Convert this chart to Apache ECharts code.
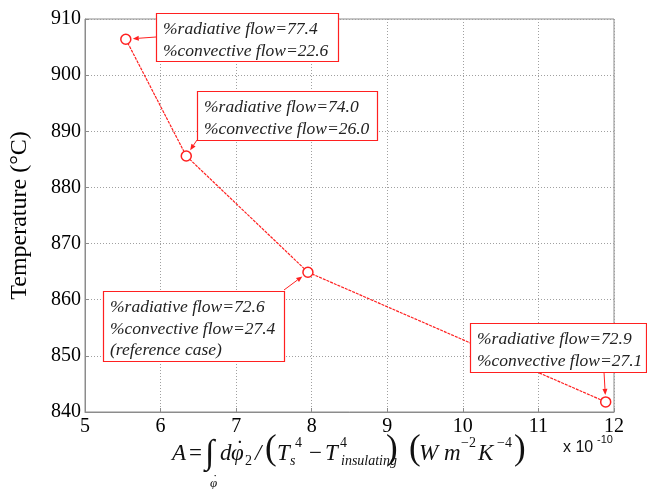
<!DOCTYPE html>
<html><head><meta charset="utf-8">
<script src="https://cdn.jsdelivr.net/npm/echarts@6/dist/echarts.min.js"></script>
<style>html,body{margin:0;padding:0;background:#fff}#c{width:647px;height:489px}</style>
</head><body><div id="c"></div>
<script>
const xValues = [5.54, 6.34, 7.95, 11.89];
const temperatures = [906.4, 885.6, 864.9, 841.8];
const radiative = ['77.4', '74.0', '72.6', '72.9'];
const convective = ['22.6', '26.0', '27.4', '27.1'];
const extraNote = ['', '', '(reference case)', ''];
const xTicks = [5, 6, 7, 8, 9, 10, 11, 12];
const yTicks = [840, 850, 860, 870, 880, 890, 900, 910];

const RED = '#ff2020';
const SERIF = 'Liberation Serif';
const chart = echarts.init(document.getElementById('c'));

const boxes = [
  {x: 156, y: 13, w: 182, h: 48, tail: [156, 37]},
  {x: 197, y: 91, w: 180, h: 49, tail: [197, 140]},
  {x: 103, y: 291, w: 181, h: 70, tail: [284, 290]},
  {x: 470, y: 323, w: 176, h: 49, tail: [604, 372]}
];

chart.setOption({
  animation: false,
  grid: {left: 82, right: 33, top: 19, bottom: 77, show: true, borderColor: '#8c8c8c', borderWidth: 1},
  xAxis: {
    type: 'value', min: xTicks[0], max: xTicks[xTicks.length - 1], interval: 1,
    axisLine: {show: true, lineStyle: {color: '#8c8c8c'}},
    axisTick: {show: true, inside: true, length: 4, lineStyle: {color: '#8c8c8c'}},
    axisLabel: {color: '#000', fontFamily: SERIF, fontSize: 20, margin: 5},
    splitLine: {show: true, lineStyle: {color: '#a0a0a0', type: [1, 2], width: 1}}
  },
  yAxis: {
    type: 'value', min: yTicks[0], max: yTicks[yTicks.length - 1], interval: 10,
    name: 'Temperature (°C)', nameLocation: 'middle', nameGap: 53,
    nameTextStyle: {color: '#000', fontFamily: SERIF, fontSize: 24},
    axisLine: {show: true, lineStyle: {color: '#8c8c8c'}},
    axisTick: {show: true, inside: true, length: 4, lineStyle: {color: '#8c8c8c'}},
    axisLabel: {color: '#000', fontFamily: SERIF, fontSize: 20, margin: 4},
    splitLine: {show: true, lineStyle: {color: '#a0a0a0', type: [1, 2], width: 1}}
  },
  series: [{
    type: 'line',
    data: xValues.map((x, i) => [x, temperatures[i]]),
    symbol: 'circle', symbolSize: 10, showSymbol: true,
    lineStyle: {color: RED, width: 1.2, type: [3, 1]},
    itemStyle: {color: '#fff', borderColor: RED, borderWidth: 1.5},
    z: 3
  }]
});

// annotations & arrows
const g = [];
boxes.forEach((b, i) => {
  let txt = '%radiative flow=' + radiative[i] + '\n%convective flow=' + convective[i];
  if (extraNote[i]) txt += '\n' + extraNote[i];
  g.push({type: 'rect', shape: {x: b.x + 0.5, y: b.y + 0.5, width: b.w, height: b.h},
    style: {fill: '#fff', stroke: RED, lineWidth: 1.2}, z: 10});
  g.push({type: 'text', x: b.x + 7, y: b.y + 6, z: 11,
    style: {text: txt, fill: '#222', font: 'italic 17.5px "Liberation Serif"', lineHeight: 21.5}});
  const p = chart.convertToPixel({gridIndex: 0}, [xValues[i], temperatures[i]]);
  const dx = b.tail[0] - p[0], dy = b.tail[1] - p[1];
  const L = Math.hypot(dx, dy), ux = dx / L, uy = dy / L;
  const tip = [p[0] + ux * 7, p[1] + uy * 7];
  const hl = 6, hw = 2.5;
  const base = [tip[0] + ux * hl, tip[1] + uy * hl];
  g.push({type: 'line', shape: {x1: b.tail[0], y1: b.tail[1], x2: base[0], y2: base[1]},
    style: {stroke: RED, lineWidth: 1}, z: 9});
  g.push({type: 'polygon', shape: {points: [tip, [base[0] - uy * hw, base[1] + ux * hw], [base[0] + uy * hw, base[1] - ux * hw]]},
    style: {fill: RED}, z: 9});
});

// x-axis formula label
const it = 'italic 23px "Liberation Serif"';
const rm = '23px "Liberation Serif"';
const sm = 'italic 14px "Liberation Serif"';
const smr = '14px "Liberation Serif"';
const par = '35px "Liberation Serif"';
const B = 442, SUB = 454, SUP = 436, PY = 432;
const parts = [
  {t: 'A', x: 172, y: B, f: it},
  {t: '=', x: 189, y: B, f: rm},
  {t: '∫', x: 205, y: 437, f: 'italic 34px "Liberation Serif"'},
  {t: 'φ', x: 210, y: 477, f: 'italic 13px "Liberation Serif"'},
  {t: '˙', x: 213, y: 473, f: '13px "Liberation Serif"'},
  {t: 'd', x: 220, y: B, f: it},
  {t: 'φ', x: 231, y: B, f: it},
  {t: '˙', x: 236, y: 438, f: rm},
  {t: '2', x: 245, y: SUB, f: smr},
  {t: '/', x: 255, y: B, f: it},
  {t: '(', x: 265, y: PY, f: par},
  {t: 'T', x: 277, y: B, f: it},
  {t: 's', x: 290, y: SUB, f: sm},
  {t: '4', x: 295, y: SUP, f: smr},
  {t: '−', x: 309, y: B, f: rm},
  {t: 'T', x: 325, y: B, f: it},
  {t: '4', x: 340, y: SUP, f: smr},
  {t: 'insulating', x: 341, y: SUB, f: sm},
  {t: ')', x: 386, y: PY, f: par},
  {t: '(', x: 409, y: PY, f: par},
  {t: 'W', x: 419, y: B, f: it},
  {t: 'm', x: 444, y: B, f: it},
  {t: '−2', x: 461, y: SUP, f: smr},
  {t: 'K', x: 478, y: B, f: it},
  {t: '−4', x: 497, y: SUP, f: smr},
  {t: ')', x: 514, y: PY, f: par},
  {t: 'x 10', x: 563, y: 440, f: '16px "Liberation Sans"'},
  {t: '-10', x: 597, y: 434, f: '11px "Liberation Sans"'}
];
parts.forEach(p => g.push({type: 'text', x: p.x, y: p.y, style: {text: p.t, font: p.f, fill: '#111'}, z: 5}));

chart.setOption({graphic: g});
</script>
</body></html>
